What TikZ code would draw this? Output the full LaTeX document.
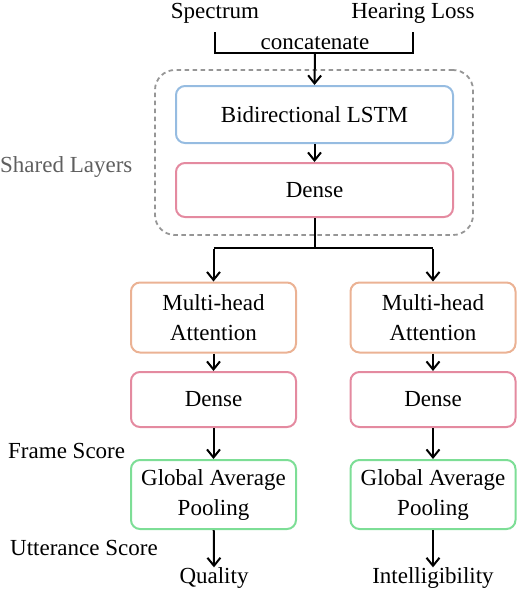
\documentclass[tikz,border=0pt]{standalone}
\usepackage{fontspec}
\setmainfont{Liberation Serif}
\usetikzlibrary{arrows.meta}
\definecolor{cblue}{RGB}{150,188,225}
\definecolor{cpink}{RGB}{228,138,160}
\definecolor{corange}{RGB}{235,178,148}
\definecolor{cgreen}{RGB}{125,222,150}
\definecolor{cgray}{RGB}{150,150,150}
\definecolor{tgray}{RGB}{95,95,95}
\tikzset{
  box/.style={draw, line width=2pt, rounded corners=9pt, align=center, inner sep=0pt, font=\fontsize{23}{30}\selectfont},
  txt/.style={inner sep=0pt, font=\fontsize{23}{29}\selectfont},
  arr/.style={line width=2pt, -{Straight Barb[length=8pt,width=13pt,line width=2pt]}},
  ln/.style={line width=2pt},
}
\begin{document}
\begin{tikzpicture}[x=1pt,y=-1pt]
\useasboundingbox (0,0) rectangle (518,590);
% dashed shared box
\node[draw=cgray, line width=1.8pt, rounded corners=20pt, minimum width=318pt, minimum height=165pt, inner sep=0pt, dash pattern=on 4.5pt off 3.5pt] (shared) at (314,152.5) {};
\node[txt, text=tgray, anchor=west] (sl) at (0,167) {Shared Layers};
% inputs
\node[txt] (spec) at (215,13) {Spectrum};
\node[txt] (hl) at (413,13) {Hearing Loss};
\node[txt] (cat) at (315,43) {concatenate};
\coordinate (sb) at (215,32);
\coordinate (hb) at (413,32);
\coordinate (sc) at (215,53);
\coordinate (hc) at (413,53);
\coordinate (cj) at (315,53);
% shared layers
\node[box, draw=cblue, minimum width=277pt, minimum height=57pt] (lstm) at (314.5,114.5) {Bidirectional LSTM};
\node[box, draw=cpink, minimum width=277pt, minimum height=54pt] (dense) at (314.5,190) {Dense};
% left branch
\node[box, draw=corange, minimum width=165pt, minimum height=70pt] (mha1) at (213.5,317.5) {Multi-head\\Attention};
\node[box, draw=cpink, minimum width=165pt, minimum height=55pt] (d1) at (213.5,399.5) {Dense};
\node[box, draw=cgreen, minimum width=165pt, minimum height=69pt] (g1) at (213.5,494.5) {Global Average\\Pooling};
\node[txt] (q) at (214,578) {Quality};
% right branch
\node[box, draw=corange, minimum width=165pt, minimum height=70pt] (mha2) at (433,317.5) {Multi-head\\Attention};
\node[box, draw=cpink, minimum width=165pt, minimum height=55pt] (d2) at (433,399.5) {Dense};
\node[box, draw=cgreen, minimum width=165pt, minimum height=69pt] (g2) at (433,494.5) {Global Average\\Pooling};
\node[txt] (it) at (433,578) {Intelligibility};
% side labels
\node[txt, anchor=west] (fs) at (8,451) {Frame Score};
\node[txt, anchor=west] (us) at (10,548) {Utterance Score};
% connectors
\coordinate (split) at (314.5,248);
\coordinate (bl) at (213.5,248);
\coordinate (br) at (433,248);
\draw[ln] (sb) -- (sc) -- (hc) -- (hb);
\draw[arr] (cj) -- (lstm.north);
\draw[arr] (lstm) -- (dense);
\draw[ln] (dense.south) -- (split);
\draw[ln] (bl) -- (br);
\draw[arr] ([yshift=-1pt]bl) -- (mha1.north);
\draw[arr] ([yshift=-1pt]br) -- (mha2.north);
\draw[arr] (mha1) -- (d1);
\draw[arr] (d1) -- (g1);
\draw[arr] (g1) -- (q.north);
\draw[arr] (mha2) -- (d2);
\draw[arr] (d2) -- (g2);
\draw[arr] (g2) -- (it.north);
\end{tikzpicture}
\end{document}
